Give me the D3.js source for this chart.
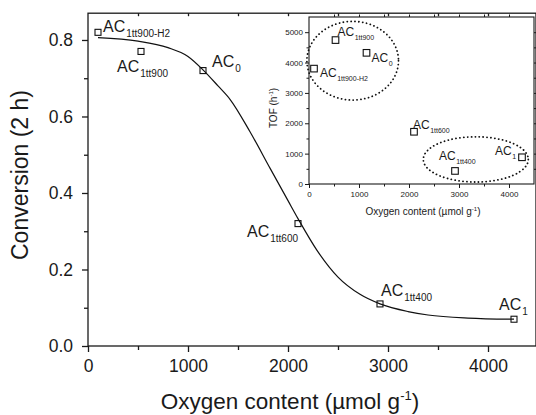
<!DOCTYPE html>
<html>
<head>
<meta charset="utf-8">
<script src="https://cdn.jsdelivr.net/npm/d3@7"></script>
<style>
  body { margin: 0; background: #fff; }
  text { font-family: "Liberation Sans", Arial, sans-serif; fill: #1a1a1a; }
</style>
</head>
<body>
<div id="vis"></div>
<script>
// samples and their values (main plot: conversion after 2 h, inset: TOF)
var samples = ['1tt900-H2', '1tt900', '0', '1tt600', '1tt400', '1'];
var oxygen = [100, 530, 1150, 2100, 2920, 4260];
var conversion = [0.82, 0.77, 0.72, 0.32, 0.11, 0.07];
var tof = [3800, 4740, 4320, 1720, 430, 880];

// fitted curve
var curveX = [100, 500, 800, 1000, 1150, 1300, 1420, 1620, 1820, 2000, 2100, 2290, 2500, 2720, 2920, 3200, 3400, 3800, 4260];
var curveY = [0.806, 0.797, 0.78, 0.757, 0.722, 0.68, 0.645, 0.56, 0.465, 0.38, 0.333, 0.25, 0.18, 0.135, 0.11, 0.09, 0.081, 0.073, 0.07];

var mainXTicks = [0, 1000, 2000, 3000, 4000];
var mainYTicks = [0.0, 0.2, 0.4, 0.6, 0.8];
var insetXTicks = [0, 1000, 2000, 3000, 4000];
var insetYTicks = [0, 1000, 2000, 3000, 4000, 5000];

// label offsets (px) from the markers
var mainLabelOffset = [[5, 0], [-24, 21], [9, -4], [-51, 13], [1, -8], [-15, -9]];
var insetLabelOffset = [[6, 8], [2, -4], [5, 9], [-1, -3], [-16, -11], [-27, -2]];

var W = 536, H = 415;
var svg = d3.select('#vis')
    .append('svg')
    .attr('width', W)
    .attr('height', H);

var x = d3.scaleLinear().domain([0, 4480]).range([88, 536]);
var y = d3.scaleLinear().domain([0, 0.87]).range([346, 13.2]);

var axisColor = '#1a1a1a';

// main frame
svg.append('rect')
    .attr('x', x(0)).attr('y', y(0.87))
    .attr('width', x(4480) - x(0)).attr('height', y(0) - y(0.87))
    .attr('fill', 'none').attr('stroke', axisColor).attr('stroke-width', 1.3);

var gx = svg.append('g')
    .attr('transform', 'translate(0,' + y(0) + ')')
    .call(d3.axisBottom(x).tickValues(mainXTicks).tickSize(6).tickPadding(8).tickFormat(d3.format('d')));
var gxm = svg.append('g')
    .attr('transform', 'translate(0,' + y(0) + ')')
    .call(d3.axisBottom(x).tickValues([500, 1500, 2500, 3500]).tickSize(4).tickFormat(''));
var gy = svg.append('g')
    .attr('transform', 'translate(' + x(0) + ',0)')
    .call(d3.axisLeft(y).tickValues(mainYTicks).tickSize(6).tickPadding(9).tickFormat(d3.format('.1f')));
var gym = svg.append('g')
    .attr('transform', 'translate(' + x(0) + ',0)')
    .call(d3.axisLeft(y).tickValues([0.1, 0.3, 0.5, 0.7]).tickSize(4).tickFormat(''));
var gtop = svg.append('g')
    .attr('transform', 'translate(0,' + y(0.87) + ')')
    .call(d3.axisTop(x).tickValues([500, 1000, 1500, 2000, 2500, 3000, 3500, 4000]).tickSize(-3).tickFormat(''));

[gx, gxm, gy, gym, gtop].forEach(function(g) {
    g.select('.domain').remove();
    g.selectAll('line').attr('stroke', axisColor).attr('stroke-width', 1.3);
    g.selectAll('text').style('font-size', '17.5px').attr('fill', axisColor);
});

svg.append('text')
    .attr('x', 290).attr('y', 409)
    .attr('text-anchor', 'middle')
    .style('font-size', '22.5px')
    .html('Oxygen content (µmol g<tspan dy="-9" style="font-size:13px">-1</tspan><tspan dy="9">)</tspan>');

svg.append('text')
    .attr('transform', 'translate(28,175) rotate(-90)')
    .attr('text-anchor', 'middle')
    .style('font-size', '23px')
    .text('Conversion (2 h)');

// fitted curve
var line = d3.line()
    .x(function(d) { return x(d[0]); })
    .y(function(d) { return y(d[1]); })
    .curve(d3.curveMonotoneX);

svg.append('path')
    .datum(d3.zip(curveX, curveY))
    .attr('d', line)
    .attr('fill', 'none')
    .attr('stroke', '#111')
    .attr('stroke-width', 1.2);

var mainData = samples.map(function(s, i) {
    return { name: s, ox: oxygen[i], v: conversion[i], off: mainLabelOffset[i] };
});

svg.selectAll('.mpt')
    .data(mainData)
    .enter()
    .append('rect')
    .attr('class', 'mpt')
    .attr('x', function(d) { return x(d.ox) - 3; })
    .attr('y', function(d) { return y(d.v) - 3; })
    .attr('width', 6).attr('height', 6)
    .attr('fill', 'none').attr('stroke', '#111').attr('stroke-width', 1.1);

var mlab = svg.selectAll('.mlab')
    .data(mainData)
    .enter()
    .append('text')
    .attr('class', 'mlab')
    .attr('x', function(d) { return x(d.ox) + d.off[0]; })
    .attr('y', function(d) { return y(d.v) + d.off[1]; })
    .style('font-size', '16px');
mlab.append('tspan').text('AC');
mlab.append('tspan').attr('dx', 1).attr('dy', 5).style('font-size', '10px')
    .text(function(d) { return d.name; });

// inset
var ix = d3.scaleLinear().domain([0, 4500]).range([309, 534]);
var iy = d3.scaleLinear().domain([0, 5500]).range([184, 17]);

svg.append('rect')
    .attr('x', ix(0)).attr('y', iy(5500))
    .attr('width', ix(4500) - ix(0)).attr('height', iy(0) - iy(5500))
    .attr('fill', '#fff').attr('stroke', axisColor).attr('stroke-width', 1.1);

var ig = [];
ig.push(svg.append('g').attr('transform', 'translate(0,' + iy(0) + ')')
    .call(d3.axisBottom(ix).tickValues(insetXTicks).tickSize(4).tickPadding(3).tickFormat(d3.format('d'))));
ig.push(svg.append('g').attr('transform', 'translate(0,' + iy(0) + ')')
    .call(d3.axisBottom(ix).tickValues([500, 1500, 2500, 3500]).tickSize(2.5).tickFormat('')));
ig.push(svg.append('g').attr('transform', 'translate(' + ix(0) + ',0)')
    .call(d3.axisLeft(iy).tickValues(insetYTicks).tickSize(4).tickPadding(2).tickFormat(d3.format('d'))));
ig.push(svg.append('g').attr('transform', 'translate(' + ix(0) + ',0)')
    .call(d3.axisLeft(iy).tickValues([500, 1500, 2500, 3500, 4500]).tickSize(2.5).tickFormat('')));
ig.push(svg.append('g').attr('transform', 'translate(' + ix(4500) + ',0)')
    .call(d3.axisRight(iy).tickValues([500, 1000, 1500, 2000, 2500, 3000, 3500, 4000, 4500, 5000]).tickSize(2.5).tickFormat('')));
ig.push(svg.append('g').attr('transform', 'translate(0,' + iy(5500) + ')')
    .call(d3.axisTop(ix).tickValues([500, 1000, 1500, 2000, 2500, 3000, 3500, 4000]).tickSize(2.5).tickFormat('')));

ig.forEach(function(g) {
    g.select('.domain').remove();
    g.selectAll('line').attr('stroke', axisColor).attr('stroke-width', 1);
    g.selectAll('text').style('font-size', '8px').attr('fill', axisColor);
});

svg.append('text')
    .attr('x', 423).attr('y', 215)
    .attr('text-anchor', 'middle')
    .style('font-size', '10px')
    .html('Oxygen content (µmol g<tspan dy="-4" style="font-size:6px">-1</tspan><tspan dy="4">)</tspan>');

svg.append('text')
    .attr('transform', 'translate(277,108) rotate(-90)')
    .attr('text-anchor', 'middle')
    .style('font-size', '10px')
    .html('TOF (h<tspan dy="-4" style="font-size:6px">-1</tspan><tspan dy="4">)</tspan>');

// dotted groupings (centres and radii in data units)
var groups = [
    { cx: 874, cy: 4060, rx: 916, ry: 1295 },
    { cx: 3336, cy: 810, rx: 1050, ry: 745 }
];
svg.selectAll('.grp')
    .data(groups)
    .enter()
    .append('ellipse')
    .attr('class', 'grp')
    .attr('cx', function(d) { return ix(d.cx); })
    .attr('cy', function(d) { return iy(d.cy); })
    .attr('rx', function(d) { return ix(d.rx) - ix(0); })
    .attr('ry', function(d) { return iy(0) - iy(d.ry); })
    .attr('fill', 'none')
    .attr('stroke', '#111')
    .attr('stroke-width', 1.8)
    .attr('stroke-linecap', 'round')
    .attr('stroke-dasharray', '0.1 3.8');

var insetData = samples.map(function(s, i) {
    return { name: s, ox: oxygen[i], v: tof[i], off: insetLabelOffset[i] };
});

svg.selectAll('.ipt')
    .data(insetData)
    .enter()
    .append('rect')
    .attr('class', 'ipt')
    .attr('x', function(d) { return ix(d.ox) - 3.3; })
    .attr('y', function(d) { return iy(d.v) - 3.3; })
    .attr('width', 6.6).attr('height', 6.6)
    .attr('fill', 'none').attr('stroke', '#111').attr('stroke-width', 1.1);

var ilab = svg.selectAll('.ilab')
    .data(insetData)
    .enter()
    .append('text')
    .attr('class', 'ilab')
    .attr('x', function(d) { return ix(d.ox) + d.off[0]; })
    .attr('y', function(d) { return iy(d.v) + d.off[1]; })
    .style('font-size', '12px');
ilab.append('tspan').text('AC');
ilab.append('tspan').attr('dx', 0.5).attr('dy', 4).style('font-size', '7px')
    .text(function(d) { return d.name; });
</script>
</body>
</html>
